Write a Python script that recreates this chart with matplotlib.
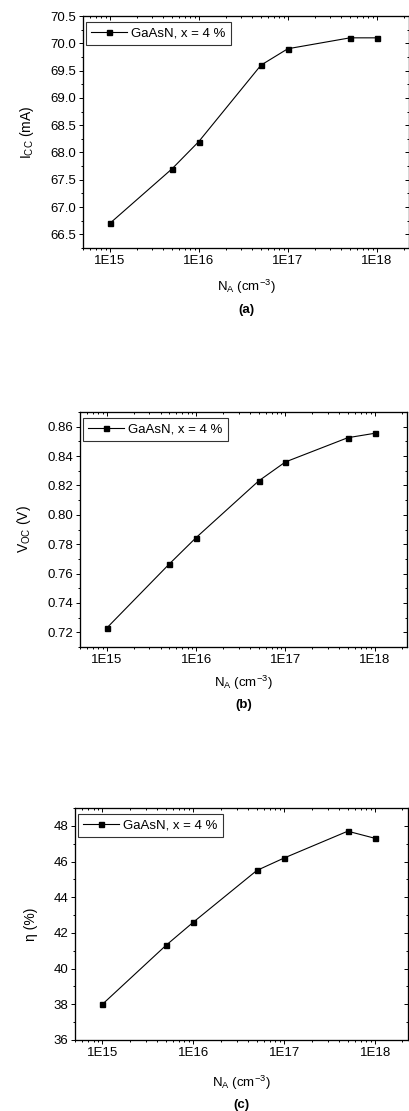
import matplotlib
matplotlib.use("Agg")
import matplotlib.pyplot as plt
from matplotlib.ticker import LogLocator, FuncFormatter, MultipleLocator, NullFormatter

plt.rcParams['font.family'] = ['Liberation Sans', 'DejaVu Sans']
plt.rcParams['mathtext.fontset'] = 'custom'
plt.rcParams['mathtext.rm'] = 'Liberation Sans'
plt.rcParams['mathtext.it'] = 'Liberation Sans:italic'

NA = [1e15, 5e15, 1e16, 5e16, 1e17, 5e17, 1e18]
Icc = [66.7, 67.7, 68.2, 69.6, 69.9, 70.1, 70.1]
Voc = [0.723, 0.7665, 0.7845, 0.823, 0.836, 0.8525, 0.8555]
eta = [38.0, 41.3, 42.6, 45.5, 46.2, 47.7, 47.3]
legend_label = "GaAsN, x = 4 %"
xtick_labels = {15: "1E15", 16: "1E16", 17: "1E17", 18: "1E18"}

W, H = 410, 1111
fig = plt.figure(figsize=(W / 100, H / 100), dpi=100)
FS = 9.5

def px_axes(l, r, t, b):
    return fig.add_axes([l / W, 1 - b / H, (r - l) / W, (b - t) / H])

panels = [
    dict(box=(83, 409, 16, 248), y=Icc, ylim=(66.25, 70.5), major=0.5, minor=0.25,
         fmt="%.1f", ylabel=r"I$_{\mathrm{CC}}$ (mA)", ylx=27, xl_y=287, tag="(a)", tag_y=310),
    dict(box=(80, 407, 412, 647), y=Voc, ylim=(0.71, 0.87), major=0.02, minor=0.01,
         fmt="%.2f", ylabel=r"V$_{\mathrm{OC}}$ (V)", ylx=24, xl_y=683, tag="(b)", tag_y=705),
    dict(box=(75, 408, 808, 1040), y=eta, ylim=(36, 49), major=2, minor=1,
         fmt="%d", ylabel="η (%)", ylx=31, xl_y=1083, tag="(c)", tag_y=1105),
]

xlim = (5e14, 2.3e18)

def xfmt(v, pos):
    import math
    e = int(round(math.log10(v)))
    return xtick_labels.get(e, "1E%d" % e)

for p in panels:
    l, r, t, b = p['box']
    ax = px_axes(l, r, t, b)
    ax.plot(NA, p['y'], color='black', lw=0.8, marker='s', markersize=3.6,
            label=legend_label)
    ax.set_xscale('log')
    ax.set_xlim(*xlim)
    ax.set_ylim(*p['ylim'])
    ax.xaxis.set_major_locator(LogLocator(base=10, numticks=10))
    ax.xaxis.set_major_formatter(FuncFormatter(xfmt))
    ax.xaxis.set_minor_locator(LogLocator(base=10, subs=range(2, 10), numticks=20))
    ax.xaxis.set_minor_formatter(NullFormatter())
    ax.yaxis.set_major_locator(MultipleLocator(p['major']))
    ax.yaxis.set_minor_locator(MultipleLocator(p['minor']))
    ax.yaxis.set_major_formatter(FuncFormatter(lambda v, pos, f=p['fmt']: f % v))
    ax.tick_params(which='both', direction='out', labelsize=FS, width=0.7, pad=2)
    ax.tick_params(which='major', length=3)
    ax.tick_params(which='minor', length=1.6)
    for s in ax.spines.values():
        s.set_linewidth(0.8)
    # mirrored ticks on top and right, pointing inward
    axt = ax.twiny()
    axt.set_xscale('log')
    axt.set_xlim(*xlim)
    axt.xaxis.set_major_locator(LogLocator(base=10, numticks=10))
    axt.xaxis.set_minor_locator(LogLocator(base=10, subs=range(2, 10), numticks=20))
    axt.tick_params(which='both', direction='in', labeltop=False, width=0.7)
    axt.tick_params(which='major', length=3)
    axt.tick_params(which='minor', length=1.6)
    axr = ax.twinx()
    axr.set_ylim(*p['ylim'])
    axr.yaxis.set_major_locator(MultipleLocator(p['major']))
    axr.yaxis.set_minor_locator(MultipleLocator(p['minor']))
    axr.tick_params(which='both', direction='in', labelright=False, width=0.7)
    axr.tick_params(which='major', length=3)
    axr.tick_params(which='minor', length=1.6)
    aw, ah = r - l, b - t
    leg = ax.legend(loc='upper left', bbox_to_anchor=(3 / aw, 1 - 6 / ah),
                    fontsize=FS, frameon=True, fancybox=False,
                    handlelength=2.7, borderpad=0.4, borderaxespad=0,
                    handletextpad=0.3)
    leg.get_frame().set_edgecolor('black')
    leg.get_frame().set_linewidth(0.8)
    fig.text(p['ylx'] / W, 1 - ((t + b) / 2) / H, p['ylabel'], rotation=90,
             ha='center', va='center', fontsize=10)
    fig.text(((l + r) / 2) / W, 1 - p['xl_y'] / H, r"N$_{\mathrm{A}}$ (cm$^{-3}$)",
             ha='center', va='center', fontsize=FS)
    fig.text(((l + r) / 2) / W, 1 - p['tag_y'] / H, p['tag'],
             ha='center', va='center', fontsize=9.5, fontweight='bold')

fig.savefig("out.png", dpi=100)
